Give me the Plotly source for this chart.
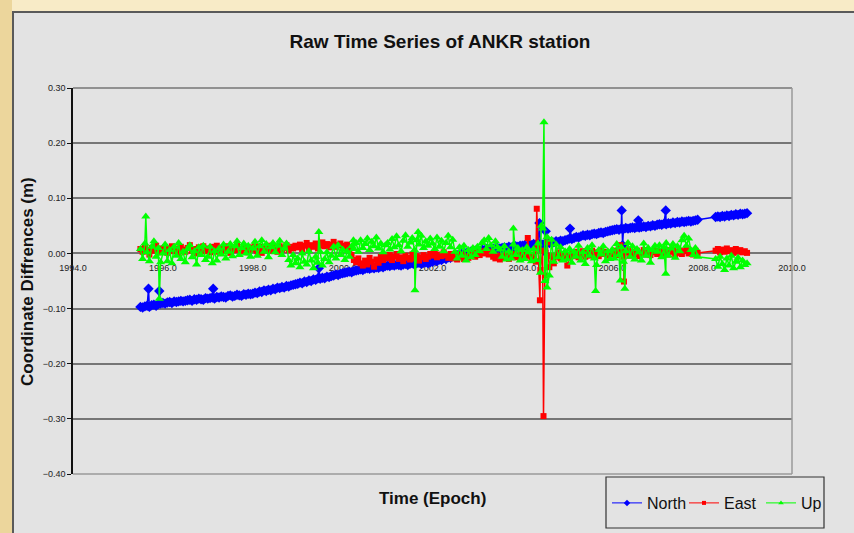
import plotly.graph_objects as go

# ---------------- data (values in millimetres) ----------------
# regular sampling grid: 1995.50, 1995.55, ... 2009.00 (rows below are one year each)
epoch_start = 1995.5
epoch_step = 0.05

north_mm = [
    -97, -98, -96, -95, -97, -94, -93, -95, -92, -91,
    -90, -91, -89, -88, -90, -87, -88, -87, -86, -87, -86, -85, -84, -86, -83, -84, -82, -83, -84, -81,
    -82, -81, -80, -82, -79, -80, -78, -79, -80, -77, -76, -78, -77, -75, -76, -77, -74, -75, -73, -74,
    -73, -71, -72, -69, -70, -67, -68, -66, -67, -64, -65, -62, -63, -61, -62, -59, -60, -58, -57, -56,
    -55, -53, -54, -51, -52, -49, -50, -47, -48, -45, -46, -44, -45, -42, -43, -41, -40, -38, -39, -37,
    -36, -35, -34, -33, -34, -32, -31, -30, -29, -30, -28, -27, -28, -26, -27, -25, -26, -24, -25, -23,
    -22, -23, -21, -22, -20, -21, -22, -20, -19, -21, -19, -18, -20, -18, -17, -19, -17, -16, -18, -16,
    -15, -13, -14, -11, -12, -9, -10, -7, -8, -5, -6, -3, -4, -1, -2, 1, 0, 3, 2, 5,
    6, 5, 7, 6, 8, 7, 8, 9, 8, 10, 9, 10, 11, 10, 12, 11, 12, 13, 12, 14,
    14, 15, 13, 16, 15, 17, 16, 18, 17, 16, 18, 20, 19, 21, 20, 22, 21, 23, 22, 24,
    25, 27, 26, 28, 30, 29, 31, 33, 32, 34, 33, 35, 36, 35, 37, 38, 37, 39, 40, 41,
    42, 43, 44, 43, 45, 44, 46, 45, 46, 47, 46, 48, 47, 48, 49, 48, 50, 49, 51, 50,
    52, 53, 52, 54, 53, 55, 54, 56, 55, 57, 56, 58, 57, 58, 59, 58, 59, 60, 61, None,
    None, None, None, None, None, None, 66, 67, 66, 68, 67, 69, 68, 70, 69, 71, 70, 72, 71, 72,
    73,
]

east_mm = [
    8, 3, 12, 6, -2, 10, 5, 14, 2, 9,
    6, 11, 1, 8, 13, 4, 9, -1, 12, 7, 3, 10, 15, 5, 8, 0, 11, 6, 13, 4,
    9, 2, 12, 7, 14, 3, 8, 11, 5, 13, 1, 10, 6, 15, 8, 4, 12, 9, 2, 11,
    7, 13, 4, 10, 1, 12, 8, 14, 5, 9, 11, 3, 13, 7, 10, 15, 6, 12, 9, 14,
    11, 16, 8, 14, 19, 10, 15, 12, 18, 9, 14, 20, 13, 17, 11, 16, 21, 12, 15, 18,
    14, 10, 16, 6, -3, -12, -16, -9, -18, -22, -13, -20, -8, -15, -24, -11, -17, -6, -12, -4,
    -9, -3, -12, -6, -1, -10, -7, -14, -4, -8, -11, -2, -9, -5, -13, -7, -3, -10, -6, -1,
    -4, 1, -7, -2, -5, 2, -3, -8, -1, -9, -4, -11, -6, -2, -10, -5, -8, -3, 1, -6,
    2, -3, 4, 0, 5, -2, 3, -6, -9, -4, -11, -5, -8, -3, -10, -6, -1, -7, -4, -8,
    -3, -6, 1, -4, -8, -2, -15, 10, -30, 5, -40, 20, -25, -5, -18, -6, 2, -9, -3, -5,
    -22, -8, 0, -5, 3, -7, -2, 4, -6, 1, -4, 5, -3, 2, -5, 6, -1, 3, -4, 1,
    -2, 5, -3, 0, 4, -6, 2, 7, -4, 3, -1, 5, -5, 1, 6, -2, 4, -3, 2, 5,
    -1, 4, -4, 2, 6, -2, 3, 7, -3, 1, 5, -1, 4, 8, 0, 3, -2, 5, 1, None,
    None, None, None, None, None, None, 5, 8, 2, 7, 3, 9, 4, 6, 1, 8, 3, 6, 2, 4,
    1,
]

up_mm = [
    8, -10, 18, 2, -14, 12, 22, -6, 10, -16,
    0, 16, -14, 6, -18, 12, -4, 19, -10, 3, -16, 8, 15, -7, 4, -20, 11, -3, 14, -12,
    -6, 12, -18, 4, -13, 9, -2, 16, -9, 3, 17, -5, 13, 22, -3, 10, 18, 0, 14, -6,
    9, 21, -4, 13, 24, 3, 17, -7, 11, 19, 2, 14, 23, -3, 9, 18, -12, -22, -3, -18,
    -9, -25, 0, -15, -20, 4, -13, -27, -6, -17, 3, -22, -10, 2, -16, -4, 12, -9, 15, -3,
    7, -12, 4, -6, 13, 8, 19, 3, 24, 10, 17, 27, 6, 21, 13, 29, 9, 18, 2, 15,
    19, 7, 26, 11, 31, 15, 4, 23, 33, 12, 20, 28, 6, 24, 16, 32, 10, 22, 14, 27,
    18, 8, 29, 12, 23, 4, 19, 32, 11, 25, 3, -9, 11, -4, 14, -13, 6, -7, 10, -3,
    12, 4, 19, 24, 8, 28, 15, 3, 22, 11, 7, -6, 13, -11, 4, -9, 16, -3, 10, -13,
    6, -10, 11, 2, -14, 8, -12, 18, -35, 45, -50, 30, -40, 25, -15, 16, -7, 11, -13, 4,
    -11, 8, -17, 3, -6, 14, -13, 2, -19, 10, -4, 15, -9, -21, 6, -2, 13, -14, 4, -10,
    7, -9, 17, -3, 11, -15, 4, 19, -6, 13, -11, 8, 2, -13, 18, -4, 10, -17, 6, 14,
    3, 15, -7, 11, 19, -4, 9, 17, -8, 13, 4, 24, 32, 14, 27, 6, -3, 10, -6, None,
    None, None, None, None, None, None, -10, -24, -6, -19, -30, -9, -22, -4, -27, -15, -8, -25, -13, -21,
    -18,
]

# isolated outliers (epoch, mm)
north_spike_epochs = [1995.68, 1995.92, 1997.12, 1999.47, 2004.38, 2004.47, 2004.52, 2005.06, 2006.21, 2006.23, 2006.58, 2007.19]
north_spike_mm = [-64, -68, -64, -27, 55, 5, 40, 45, 78, 15, 60, 78]

east_spike_epochs = [2004.12, 2004.32, 2004.39, 2004.47, 2006.18, 2006.26]
east_spike_mm = [28, 81, -85, -295, 15, -51]

up_spike_epochs = [1995.62, 1995.92, 1999.47, 2000.24, 2001.61, 2001.68, 2003.80, 2004.42, 2004.48, 2004.55, 2005.63, 2006.18, 2006.28, 2007.19]
up_spike_mm = [67, -82, 39, 24, -67, 39, 45, 50, 238, -62, -68, -49, -64, -37]

series_names = ["North", "East", "Up"]
series_colors = ["#0000ff", "#ff0000", "#00ff00"]
series_symbols = ["diamond", "square", "triangle-up"]

y_ticks = [0.30, 0.20, 0.10, 0.00, -0.10, -0.20, -0.30, -0.40]
x_ticks = [1994, 1996, 1998, 2000, 2002, 2004, 2006, 2008, 2010]

title_text = "Raw Time Series of ANKR station"
x_title = "Time (Epoch)"
y_title = "Coordinate Diffrences (m)"


def build(grid_mm, sp_ep, sp_mm):
    ep = [round(epoch_start + epoch_step * i, 2) for i in range(len(grid_mm))]
    pts = list(zip(ep, grid_mm)) + list(zip(sp_ep, sp_mm))
    pts.sort(key=lambda p: p[0])
    xs = [p[0] for p in pts]
    ys = [None if p[1] is None else p[1] / 1000.0 for p in pts]
    return xs, ys


data = [
    build(north_mm, north_spike_epochs, north_spike_mm),
    build(east_mm, east_spike_epochs, east_spike_mm),
    build(up_mm, up_spike_epochs, up_spike_mm),
]

fig = go.Figure()
marker_sizes = [8, 6, 8]
legend_marker_sizes = [5, 4, 5]
for (xs, ys), name, col, sym, ms in zip(data, series_names, series_colors, series_symbols, marker_sizes):
    fig.add_trace(go.Scatter(
        x=xs, y=ys, name=name, mode="lines+markers", connectgaps=True, showlegend=False,
        line=dict(color=col, width=1.5),
        marker=dict(color=col, symbol=sym, size=ms, line=dict(width=0)),
    ))
# legend entries (small markers, like the original key)
for name, col, sym, ms in zip(series_names, series_colors, series_symbols, legend_marker_sizes):
    fig.add_trace(go.Scatter(
        x=[None], y=[None], name=name, mode="lines+markers", showlegend=True,
        line=dict(color=col, width=1),
        marker=dict(color=col, symbol=sym, size=ms, line=dict(width=0)),
    ))

W, H = 854, 533
L, R, T, B = 73, 62, 88, 59
pw, ph = W - L - R, H - T - B


def px_x(p):
    return (p - L) / pw


def px_y(p):
    return (H - B - p) / ph


FONT = "Arial, Liberation Sans, sans-serif"
GRID = "#767676"

shapes = [
    # darker left edge of the slide
    dict(type="rect", xref="paper", yref="paper", x0=px_x(-5), x1=px_x(12), y0=px_y(545), y1=px_y(-5),
         fillcolor="#ecd69c", line=dict(width=0), layer="below"),
    # grey chart area
    dict(type="rect", xref="paper", yref="paper", x0=px_x(13), x1=px_x(870), y0=px_y(560), y1=px_y(12),
         fillcolor="#e3e3e3", line=dict(color="#5a5a5a", width=2), layer="below"),
    # plot frame (top, right, bottom)
    dict(type="line", xref="paper", yref="paper", x0=0, x1=1, y0=1, y1=1, line=dict(color=GRID, width=1.5)),
    dict(type="line", xref="paper", yref="paper", x0=1, x1=1, y0=0, y1=1, line=dict(color="#9a9a9a", width=1.5)),
    dict(type="line", xref="paper", yref="paper", x0=0, x1=1, y0=0, y1=0, line=dict(color="#9a9a9a", width=1.5)),
    # legend box
    dict(type="rect", xref="paper", yref="paper", x0=px_x(606), x1=px_x(824), y0=px_y(528), y1=px_y(477),
         fillcolor="rgba(0,0,0,0)", line=dict(color="#333333", width=1.2)),
]

annotations = [
    dict(text=f"<b>{x_title}</b>", xref="paper", yref="paper", x=px_x(432), y=px_y(498),
         xanchor="center", yanchor="middle", showarrow=False, font=dict(family=FONT, size=17, color="#111")),
    dict(text=f"<b>{y_title}</b>", xref="paper", yref="paper", x=px_x(27), y=px_y(282),
         xanchor="center", yanchor="middle", textangle=-90, showarrow=False,
         font=dict(family=FONT, size=17, color="#111")),
]

fig.update_layout(
    width=W, height=H,
    margin=dict(l=L, r=R, t=T, b=B, pad=0, autoexpand=False),
    paper_bgcolor="#f8ebc7",
    plot_bgcolor="#ffffff",
    title=dict(text=f"<b>{title_text}</b>", x=440 / W, xref="container", xanchor="center",
               y=1 - 41 / H, yref="container", yanchor="middle",
               font=dict(family=FONT, size=19, color="#111")),
    font=dict(family=FONT, color="#222"),
    showlegend=True,
    legend=dict(orientation="h", x=px_x(607), xanchor="left", y=px_y(503), yanchor="middle",
                bgcolor="rgba(0,0,0,0)", borderwidth=0, font=dict(family=FONT, size=16, color="#111"),
                itemwidth=30, entrywidth=32, entrywidthmode="pixels", traceorder="normal"),
    shapes=shapes,
    annotations=annotations,
    hovermode=False,
)

fig.update_yaxes(
    range=[-0.40, 0.30], tickvals=y_ticks, tickformat=".2f",
    ticks="outside", ticklen=4, tickcolor="#111", tickwidth=1,
    showline=True, linecolor="#111", linewidth=1.5,
    showgrid=True, gridcolor=GRID, gridwidth=1.5, zeroline=False,
    tickfont=dict(family=FONT, size=9, color="#222"),
    layer="below traces",
)

fig.update_xaxes(
    range=[1994, 2010], tickvals=x_ticks, tickformat=".1f",
    anchor="free", position=0.4 / 0.7,
    ticks="outside", ticklen=6, tickcolor="rgba(0,0,0,0)",
    showline=True, linecolor=GRID, linewidth=1.5,
    showgrid=False, zeroline=False,
    tickfont=dict(family=FONT, size=9, color="#222"),
    layer="below traces",
)

fig.write_html("out.html")
